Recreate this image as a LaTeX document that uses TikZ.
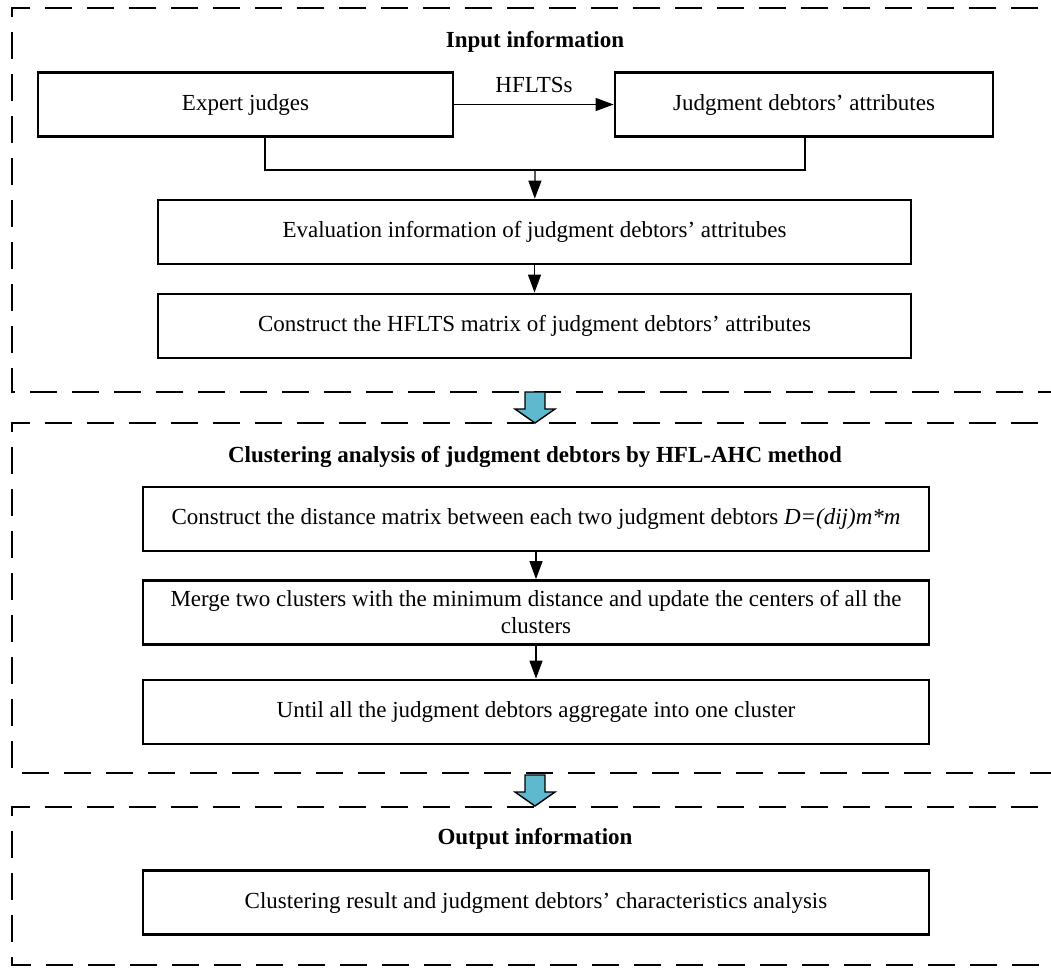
\documentclass[tikz,border=0pt]{standalone}
\usepackage{fontspec}
\setmainfont{Liberation Serif}
\usetikzlibrary{arrows.meta}

\definecolor{blockblue}{RGB}{94,184,206}

\tikzset{
  procbox/.style={draw, line width=2.8pt, minimum height=64pt, align=center,
    font=\fontsize{23}{27}\selectfont, inner sep=2pt},
  stagetitle/.style={font=\fontsize{23}{27}\selectfont\bfseries},
  stageframe/.style={line width=2.6pt, dash pattern=on 27pt off 15pt},
  flow/.style={-{Triangle[length=18pt,width=13pt]}, line width=1.3pt},
  blockarrow/.style={draw, line width=1.4pt, fill=blockblue}
}

\begin{document}
\begin{tikzpicture}[x=1pt,y=-1pt]
  \useasboundingbox (0,0) rectangle (1051,967);
  \clip (0,0) rectangle (1051,967);

  % stage frames
  \draw[stageframe] (1080,8) -- (12,8) -- (12,392) -- (1080,392);
  \draw[stageframe] (1080,423) -- (12,423) -- (12,773) -- (1080,773);
  \draw[stageframe] (1080,807) -- (12,807) -- (12,965) -- (1080,965);

  % input information
  \node[stagetitle] (t1) at (535,42) {Input information};
  \node[procbox, minimum width=415pt] (judges) at (245.5,104.5) {Expert judges};
  \node[procbox, minimum width=378pt] (attr) at (804,104.5) {Judgment debtors' attributes};
  \node[procbox, minimum width=753pt] (eval) at (534.5,232) {Evaluation information of judgment debtors' attritubes};
  \node[procbox, minimum width=753pt] (matrix) at (534.5,326) {Construct the HFLTS matrix of judgment debtors' attributes};

  \draw[flow] (judges) -- node[above=8pt, font=\fontsize{23}{27}\selectfont] {HFLTSs} (attr);
  \coordinate (join) at (535,170);
  \draw[line width=1.3pt] (judges.south -| 265,0) |- (join) -| (attr.south -| 805,0);
  \draw[flow] (join) -- (eval);
  \draw[flow] (eval) -- (matrix);

  % clustering analysis
  \node[stagetitle] (t2) at (535,457) {Clustering analysis of judgment debtors by HFL-AHC method};
  \node[procbox, minimum width=786pt] (dist) at (536,519) {Construct the distance matrix between each two judgment debtors \textit{D=(dij)m*m}};
  \node[procbox, minimum width=786pt] (merge) at (536,612.5) {Merge two clusters with the minimum distance and update the centers of all the\\clusters};
  \node[procbox, minimum width=786pt] (until) at (536,712) {Until all the judgment debtors aggregate into one cluster};

  \draw[flow] (dist) -- (merge);
  \draw[flow] (merge) -- (until);

  % output information
  \node[stagetitle] (t3) at (535,839) {Output information};
  \node[procbox, minimum width=786pt] (result) at (536,902.5) {Clustering result and judgment debtors' characteristics analysis};

  % block arrows between stages
  \foreach \ya/\yb in {392/423, 775/806}
    \draw[blockarrow] (525,\ya) -- (545,\ya) -- (545,\ya+17) -- (555,\ya+17)
      -- (535,\yb) -- (515,\ya+17) -- (525,\ya+17) -- cycle;
\end{tikzpicture}
\end{document}
